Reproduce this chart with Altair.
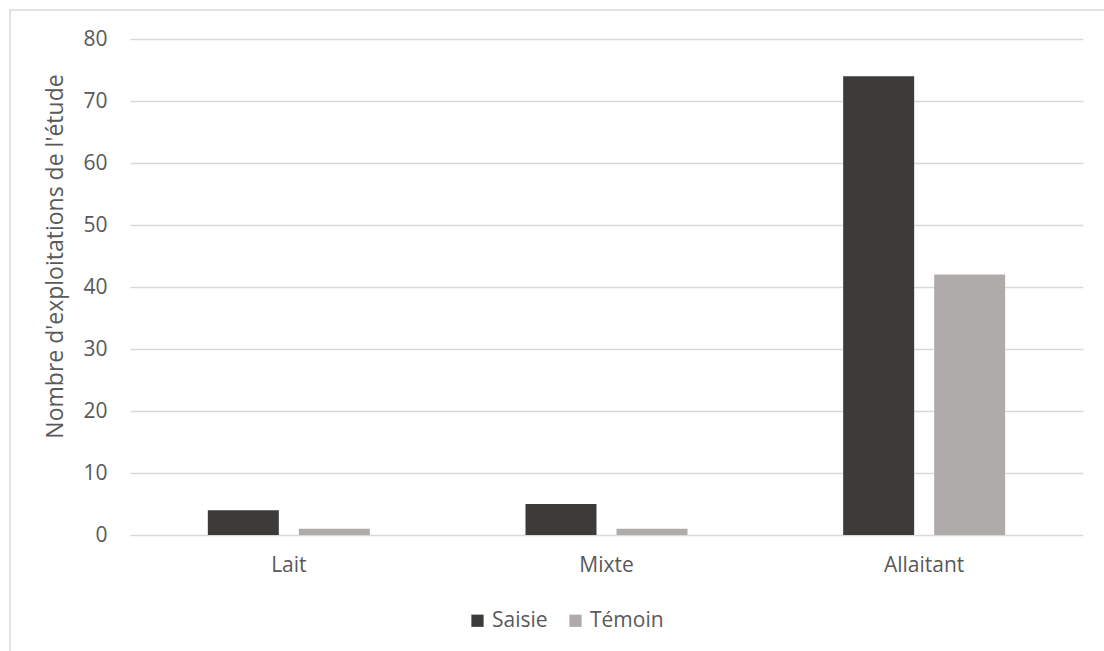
import altair as alt
import pandas as pd

categories = ["Lait", "Mixte", "Allaitant"]
series = ["Saisie", "Témoin"]
saisie = [4, 5, 74]
temoin = [1, 1, 42]
colors = ["#3c3b39", "#aeabaa"]
y_ticks = [0, 10, 20, 30, 40, 50, 60, 70, 80]

rows = []
for c, s, t in zip(categories, saisie, temoin):
    rows.append({"cat": c, "serie": "Saisie", "val": s})
    rows.append({"cat": c, "serie": "Témoin", "val": t})
df = pd.DataFrame(rows)

FONT = "Open Sans"
GREY = "#595959"
FS = 21

bars = alt.Chart(df).mark_bar().encode(
    x=alt.X("cat:N", sort=categories, title=None,
            scale=alt.Scale(paddingInner=0.49, paddingOuter=0.245),
            axis=alt.Axis(labelAngle=0, labelFontSize=FS, labelColor=GREY, labelFont=FONT,
                          ticks=False, domain=False, labelPadding=19, grid=False)),
    xOffset=alt.XOffset("serie:N", sort=series, scale=alt.Scale(paddingInner=0.22)),
    y=alt.Y("val:Q", title="Nombre d'exploitations de l'étude",
            scale=alt.Scale(domain=[0, 80], nice=False),
            axis=alt.Axis(values=y_ticks, labelFontSize=FS, labelColor=GREY, labelFont=FONT,
                          ticks=False, domain=False, labelPadding=23, gridColor="#d9d9d9",
                          gridWidth=1.5,
                          titleFontSize=23, titleColor=GREY, titleFont=FONT, titleFontWeight="normal",
                          titleX=-75, titleY=217, titleBaseline="middle", titleAngle=270)),
    color=alt.Color("serie:N", sort=series, scale=alt.Scale(domain=series, range=colors),
                    legend=alt.Legend(title=None, orient="none", direction="horizontal",
                                      legendX=337, legendY=571, symbolType="square",
                                      symbolSize=150, symbolStrokeWidth=0, labelFontSize=FS,
                                      labelColor=GREY, labelFont=FONT, columnPadding=17,
                                      labelOffset=4)),
)

border = alt.Chart(pd.DataFrame({"a": [0]})).mark_rect(
    fill=None, stroke="#d9d9d9", strokeWidth=1.5
).encode(
    x=alt.value(-120), x2=alt.value(1000), y=alt.value(-29), y2=alt.value(700)
)

chart = alt.layer(border, bars).properties(
    width=953, height=496,
    autosize=alt.AutoSizeParams(type="none"),
    padding={"left": 130, "top": 39, "right": 21, "bottom": 116},
).configure(background="white").configure_view(stroke=None, strokeWidth=0)

chart.save("out.html", embed_options={"renderer": "svg", "actions": False})
